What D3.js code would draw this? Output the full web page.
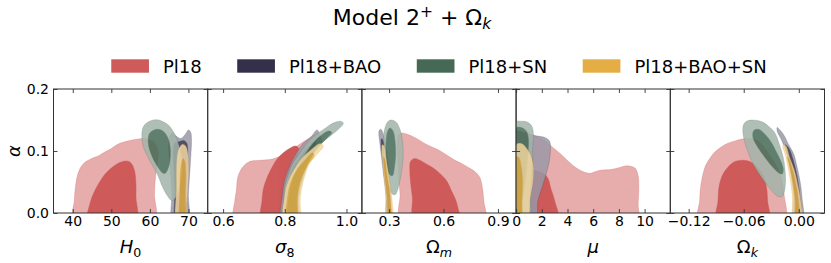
<!DOCTYPE html>
<html><head><meta charset="utf-8">
<script src="https://cdn.jsdelivr.net/npm/d3@7"></script>
<style>body{margin:0;background:#fff}svg{display:block}text{font-family:"DejaVu Sans",sans-serif}</style>
</head><body><svg id="c" width="831" height="263"></svg>
<script>
// ---------- data ----------
const seriesNames = ["Pl18", "Pl18+BAO", "Pl18+SN", "Pl18+BAO+SN"];
const seriesColors = ["#ce5a5a", "#34304a", "#466955", "#e4ae45"];
const xRanges = [[35, 75], [0.55, 1.05], [0.15, 1.0], [0, 12], [-0.14, 0.028]];
const xTicks = [[40, 50, 60, 70], [0.6, 0.8, 1.0], [0.3, 0.6, 0.9], [0, 2, 4, 6, 8, 10], [-0.12, -0.06, 0.0]];
const xTickFormats = ["d", ".1f", ".1f", "d", ".2f"];
const yRange = [0, 0.2];
const yTicks = [0.0, 0.1, 0.2];

// contours: [95% region, 68% region], points are [param, alpha]
const H0_Pl18 = [
  [[40.3,0],[40.4,0.02],[40.6,0.037],[41.1,0.058],[41.9,0.072],[43,0.081],[44,0.085],[45.3,0.089],[46.6,0.092],[48.5,0.099],[50,0.104],[51.4,0.11],[53,0.114],[54.8,0.117],[56.6,0.119],[58,0.12],[59.5,0.119],[60.9,0.115],[61.8,0.107],[62.2,0.097],[62,0.085],[61.7,0.07],[61.4,0.053],[61.2,0.03],[61.1,0]],
  [[44,0],[44.5,0.016],[45.8,0.037],[47.9,0.059],[49.2,0.068],[50.5,0.075],[52,0.081],[53.6,0.084],[54.6,0.083],[55.3,0.079],[55.9,0.071],[56.2,0.062],[56.4,0.045],[56.4,0.025],[56.4,0]]];
const H0_BAO = [
  [[65.9,0],[65.7,0.03],[65.3,0.07],[64.9,0.1],[64.9,0.115],[65.3,0.126],[65.9,0.129],[66.8,0.124],[68,0.12],[69.2,0.127],[70,0.134],[70.6,0.13],[70.8,0.115],[70.6,0.09],[70.3,0.06],[70,0.03],[69.8,0]],
  [[66.8,0],[66.5,0.04],[66.2,0.075],[66.1,0.1],[66.5,0.113],[67.5,0.115],[68.8,0.117],[69.6,0.112],[69.8,0.09],[69.6,0.05],[69.3,0.02],[69.2,0]]];
const H0_SN = [
  [[57.9,0.126],[58.3,0.139],[59.3,0.146],[60.9,0.15],[62.3,0.15],[63.5,0.147],[64.8,0.142],[65.7,0.135],[66.7,0.124],[67.4,0.112],[68,0.098],[68.3,0.085],[68.3,0.065],[67.9,0.048],[67.3,0.033],[66.6,0.024],[65.7,0.02],[64.4,0.029],[63.2,0.043],[62.2,0.059],[61.1,0.072],[60.1,0.083],[59.1,0.095],[58.3,0.107]],
  [[59.8,0.127],[60.8,0.133],[62.2,0.135],[63.6,0.131],[64.6,0.122],[65.2,0.108],[65.3,0.092],[64.9,0.075],[64.0,0.064],[63.2,0.065],[62.3,0.072],[61.2,0.083],[60.2,0.097],[59.6,0.112]]];
const H0_BAOSN = [
  [[67.0,0],[66.9,0.04],[66.9,0.075],[67.2,0.097],[67.8,0.107],[68.5,0.111],[69.3,0.108],[69.8,0.097],[70,0.075],[69.8,0.04],[69.5,0.015],[69.4,0]],
  [[67.9,0],[67.8,0.035],[67.9,0.065],[68.3,0.083],[68.7,0.088],[69.1,0.082],[69.3,0.06],[69.2,0.03],[69.0,0]]];

const S8_Pl18 = [
  [[0.637,0],[0.638,0.02],[0.643,0.037],[0.648,0.059],[0.665,0.075],[0.686,0.083],[0.72,0.085],[0.76,0.087],[0.79,0.093],[0.81,0.1],[0.84,0.108],[0.87,0.118],[0.9,0.126],[0.912,0.124],[0.9,0.11],[0.88,0.09],[0.86,0.07],[0.84,0.05],[0.822,0.025],[0.812,0]],
  [[0.724,0],[0.726,0.02],[0.731,0.04],[0.745,0.06],[0.76,0.075],[0.775,0.087],[0.795,0.097],[0.815,0.104],[0.835,0.108],[0.845,0.104],[0.84,0.09],[0.83,0.07],[0.815,0.05],[0.8,0.025],[0.795,0]]];
const S8_BAO = [
  [[0.79,0],[0.792,0.03],[0.8,0.055],[0.815,0.075],[0.835,0.095],[0.86,0.112],[0.885,0.123],[0.905,0.134],[0.912,0.128],[0.92,0.115],[0.9,0.1],[0.88,0.085],[0.865,0.065],[0.85,0.04],[0.845,0.02],[0.843,0]],
  [[0.8,0],[0.805,0.04],[0.825,0.07],[0.85,0.09],[0.88,0.108],[0.9,0.115],[0.895,0.1],[0.875,0.085],[0.855,0.065],[0.842,0.04],[0.835,0]]];
const S8_SN = [
  [[0.794,0],[0.797,0.02],[0.8,0.043],[0.816,0.069],[0.83,0.084],[0.848,0.096],[0.865,0.108],[0.881,0.118],[0.908,0.129],[0.935,0.138],[0.956,0.145],[0.98,0.148],[0.99,0.145],[0.978,0.137],[0.95,0.125],[0.925,0.115],[0.902,0.103],[0.885,0.09],[0.87,0.075],[0.858,0.06],[0.848,0.045],[0.842,0.025],[0.838,0]],
  [[0.812,0],[0.815,0.03],[0.83,0.06],[0.855,0.085],[0.88,0.105],[0.91,0.122],[0.94,0.132],[0.952,0.13],[0.935,0.12],[0.905,0.105],[0.88,0.085],[0.86,0.06],[0.845,0.03],[0.835,0]]];
const S8_BAOSN = [
  [[0.798,0],[0.8,0.03],[0.81,0.05],[0.83,0.07],[0.855,0.088],[0.885,0.102],[0.915,0.112],[0.925,0.108],[0.905,0.095],[0.88,0.08],[0.865,0.06],[0.855,0.04],[0.85,0.02],[0.848,0]],
  [[0.808,0],[0.81,0.03],[0.82,0.05],[0.84,0.07],[0.865,0.085],[0.89,0.097],[0.895,0.092],[0.875,0.078],[0.857,0.06],[0.845,0.04],[0.84,0.02],[0.838,0]]];

const Om_Pl18 = [
  [[0.365,0],[0.36,0.03],[0.352,0.06],[0.348,0.09],[0.346,0.115],[0.352,0.126],[0.37,0.129],[0.4,0.127],[0.433,0.123],[0.47,0.117],[0.51,0.11],[0.571,0.102],[0.62,0.093],[0.663,0.085],[0.7,0.08],[0.746,0.072],[0.78,0.065],[0.801,0.057],[0.815,0.04],[0.822,0.02],[0.825,0]],
  [[0.439,0],[0.428,0.025],[0.418,0.05],[0.414,0.07],[0.418,0.083],[0.44,0.088],[0.47,0.085],[0.5,0.08],[0.535,0.074],[0.575,0.065],[0.617,0.052],[0.645,0.035],[0.663,0.024],[0.678,0.01],[0.685,0]]];
const Om_BAO = [
  [[0.245,0.133],[0.255,0.135],[0.27,0.125],[0.285,0.1],[0.298,0.07],[0.307,0.04],[0.312,0.015],[0.313,0],[0.29,0],[0.282,0.03],[0.27,0.06],[0.258,0.09],[0.248,0.115],[0.243,0.128]],
  [[0.258,0.12],[0.27,0.115],[0.283,0.09],[0.296,0.06],[0.304,0.03],[0.307,0],[0.295,0],[0.287,0.03],[0.276,0.06],[0.265,0.09],[0.256,0.11]]];
const Om_SN = [
  [[0.315,0.15],[0.34,0.146],[0.36,0.135],[0.373,0.118],[0.378,0.1],[0.375,0.08],[0.365,0.06],[0.35,0.04],[0.335,0.03],[0.32,0.03],[0.305,0.038],[0.29,0.055],[0.28,0.08],[0.272,0.105],[0.27,0.125],[0.28,0.14],[0.295,0.148]],
  [[0.305,0.137],[0.322,0.132],[0.333,0.115],[0.336,0.095],[0.33,0.075],[0.318,0.06],[0.303,0.062],[0.29,0.075],[0.283,0.095],[0.284,0.118],[0.292,0.132]]];
const Om_BAOSN = [
  [[0.262,0.11],[0.272,0.108],[0.285,0.085],[0.3,0.055],[0.312,0.03],[0.32,0.01],[0.322,0],[0.29,0],[0.284,0.02],[0.275,0.05],[0.266,0.08],[0.26,0.1]],
  [[0.27,0.09],[0.278,0.085],[0.29,0.06],[0.303,0.035],[0.31,0.01],[0.312,0],[0.296,0],[0.29,0.02],[0.281,0.045],[0.273,0.07]]];

const Mu_Pl18 = [
  [[0,0],[0,0.128],[0.6,0.13],[1.35,0.126],[2.13,0.118],[2.78,0.107],[3.43,0.096],[4.08,0.083],[4.73,0.072],[5.3,0.066],[5.77,0.064],[6.2,0.067],[6.55,0.069],[7.33,0.07],[8,0.073],[8.5,0.076],[9.0,0.075],[9.28,0.072],[9.5,0.06],[9.55,0.04],[9.5,0.015],[9.4,0]],
  [[0,0],[0,0.07],[0.8,0.072],[1.6,0.068],[2.2,0.063],[2.5,0.055],[2.7,0.04],[3.0,0.02],[3.25,0]]];
const Mu_BAO = [
  [[0,0],[0,0.132],[0.5,0.13],[1.1,0.126],[1.7,0.124],[2.2,0.122],[2.6,0.116],[2.67,0.1],[2.55,0.08],[2.3,0.06],[2.0,0.04],[1.7,0.02],[1.5,0]],
  [[0,0],[0,0.11],[0.5,0.108],[1.0,0.1],[1.3,0.08],[1.2,0.05],[1.0,0.02],[0.9,0]]];
const Mu_SN = [
  [[0,0],[0,0.147],[0.4,0.148],[0.83,0.147],[1.2,0.141],[1.35,0.128],[1.3,0.11],[1.25,0.09],[1.2,0.06],[1.1,0.03],[1.0,0]],
  [[0,0],[0,0.137],[0.4,0.138],[0.8,0.132],[0.95,0.12],[0.9,0.09],[0.7,0.05],[0.5,0.02],[0.4,0]]];
const Mu_BAOSN = [
  [[0,0],[0,0.11],[0.4,0.112],[0.8,0.105],[1.2,0.09],[1.35,0.075],[1.3,0.05],[1.1,0.025],[0.85,0]],
  [[0,0],[0,0.09],[0.2,0.09],[0.4,0.075],[0.5,0.05],[0.45,0.02],[0.35,0]]];

const Ok_Pl18 = [
  [[-0.109,0],[-0.108,0.02],[-0.107,0.042],[-0.102,0.075],[-0.097,0.088],[-0.091,0.099],[-0.085,0.106],[-0.078,0.112],[-0.068,0.117],[-0.058,0.12],[-0.047,0.118],[-0.04,0.11],[-0.033,0.096],[-0.027,0.083],[-0.022,0.069],[-0.018,0.05],[-0.016,0.03],[-0.016,0]],
  [[-0.089,0],[-0.088,0.02],[-0.087,0.042],[-0.084,0.058],[-0.08,0.069],[-0.071,0.082],[-0.062,0.085],[-0.055,0.084],[-0.049,0.079],[-0.043,0.07],[-0.038,0.058],[-0.035,0.04],[-0.034,0.02],[-0.0334,0]]];
const Ok_BAO = [
  [[-0.0236,0.138],[-0.02,0.133],[-0.016,0.125],[-0.011,0.11],[-0.0055,0.095],[-0.002,0.075],[0.0015,0.05],[0.0035,0.025],[0.0045,0],[-0.0045,0],[-0.006,0.03],[-0.0075,0.053],[-0.0105,0.08],[-0.014,0.1],[-0.019,0.118],[-0.0235,0.132]],
  [[-0.015,0.11],[-0.011,0.105],[-0.006,0.085],[-0.002,0.06],[0.001,0.03],[0.002,0],[-0.003,0],[-0.005,0.03],[-0.008,0.06],[-0.011,0.085],[-0.014,0.1]]];
const Ok_SN = [
  [[-0.06,0.143],[-0.057,0.148],[-0.051,0.15],[-0.045,0.149],[-0.04,0.147],[-0.033,0.14],[-0.026,0.129],[-0.021,0.11],[-0.017,0.09],[-0.015,0.07],[-0.0145,0.05],[-0.016,0.033],[-0.019,0.026],[-0.024,0.028],[-0.03,0.037],[-0.037,0.05],[-0.044,0.065],[-0.05,0.08],[-0.055,0.097],[-0.059,0.115],[-0.061,0.132]],
  [[-0.049,0.133],[-0.044,0.135],[-0.037,0.127],[-0.03,0.114],[-0.025,0.1],[-0.02,0.085],[-0.017,0.072],[-0.018,0.063],[-0.022,0.065],[-0.029,0.075],[-0.037,0.09],[-0.045,0.107],[-0.05,0.122]]];
const Ok_BAOSN = [
  [[-0.017,0.11],[-0.014,0.108],[-0.01,0.09],[-0.005,0.07],[-0.001,0.045],[0.002,0.02],[0.003,0],[-0.0055,0],[-0.007,0.025],[-0.009,0.05],[-0.012,0.075],[-0.015,0.095],[-0.0175,0.106]],
  [[-0.013,0.09],[-0.011,0.088],[-0.007,0.07],[-0.003,0.045],[-0.0005,0.02],[0.0005,0],[-0.003,0],[-0.004,0.02],[-0.006,0.045],[-0.009,0.068],[-0.012,0.085]]];

const panelContours = [
  [H0_Pl18, H0_BAO, H0_SN, H0_BAOSN],
  [S8_Pl18, S8_BAO, S8_SN, S8_BAOSN],
  [Om_Pl18, Om_BAO, Om_SN, Om_BAOSN],
  [Mu_Pl18, Mu_BAO, Mu_SN, Mu_BAOSN],
  [Ok_Pl18, Ok_BAO, Ok_SN, Ok_BAOSN]
];
// axis labels: [main symbol, italic?, subscript, subscript italic?]
const xLabels = [["H", true, "0", false], ["σ", true, "8", false], ["Ω", false, "m", true], ["μ", true, "", false], ["Ω", false, "k", true]];

// ---------- layout ----------
const svg = d3.select("#c");
const plotL = 53.5, plotR = 824.5, plotT = 89, plotB = 213;
const nP = 5, pw = (plotR - plotL) / nP;
const ys = d3.scaleLinear().domain(yRange).range([plotB, plotT]);
const frameColor = "#333";
const lighten = c => d3.interpolateRgb(c, "#ffffff")(0.5);

// title
const title = svg.append("text").attr("x", 412).attr("y", 25).attr("text-anchor", "middle")
  .attr("font-size", 22).attr("fill", "#000");
title.append("tspan").text("Model 2");
title.append("tspan").attr("dy", -8).attr("font-size", 15.5).text("+");
title.append("tspan").attr("dy", 8).text(" + Ω");
title.append("tspan").attr("dy", 4).attr("font-size", 15.5).attr("font-style", "italic").text("k");

// legend
const lg = svg.append("g");
const patchW = 37.7, patchH = 13.4, textGap = 14, colGap = 35.5;
let cx = 0;
const items = [];
seriesNames.forEach((name, i) => {
  const g = lg.append("g");
  g.append("rect").attr("x", 0).attr("y", 59.3).attr("width", patchW).attr("height", patchH).attr("fill", seriesColors[i]);
  const t = g.append("text").attr("x", patchW + textGap).attr("y", 72.5).attr("font-size", 18).attr("fill", "#000").text(name);
  const w = patchW + textGap + t.node().getComputedTextLength();
  items.push({ g, w });
});
const totalW = d3.sum(items, d => d.w) + colGap * (items.length - 1);
cx = (plotL + plotR) / 2 - totalW / 2;
items.forEach(it => { it.g.attr("transform", `translate(${cx},0)`); cx += it.w + colGap; });

// panels
panelContours.forEach((sets, p) => {
  const x0 = plotL + p * pw, x1 = x0 + pw;
  const xs = d3.scaleLinear().domain(xRanges[p]).range([x0, x1]);
  const clipId = "clip" + p;
  svg.append("clipPath").attr("id", clipId).append("rect")
    .attr("x", x0).attr("y", plotT).attr("width", pw).attr("height", plotB - plotT);
  const gp = svg.append("g").attr("clip-path", `url(#${clipId})`);
  const line = d3.line()
    .x(d => xs(d[0]))
    .y(d => ys(d[1] <= 0 ? -0.015 : d[1]))
    .curve(d3.curveCatmullRomClosed.alpha(0.5));
  sets.forEach((levels, s) => {
    const col = seriesColors[s];
    const gs = gp.append("g").attr("opacity", s === 0 ? 1 : 0.85);
    gs.append("path").attr("d", line(levels[0])).attr("fill", lighten(col))
      .attr("stroke", col).attr("stroke-opacity", 0.35).attr("stroke-width", 0.7);
    gs.append("path").attr("d", line(levels[1])).attr("fill", col)
      .attr("stroke", col).attr("stroke-opacity", 0.6).attr("stroke-width", 0.7);
  });

  // axes (inward ticks on all four sides)
  const fmt = d3.format(xTickFormats[p]);
  const axB = svg.append("g").attr("transform", `translate(0,${plotB})`)
    .call(d3.axisBottom(xs).tickValues(xTicks[p]).tickFormat(fmt).tickSize(-4).tickPadding(3));
  const axT = svg.append("g").attr("transform", `translate(0,${plotT})`)
    .call(d3.axisTop(xs).tickValues(xTicks[p]).tickFormat("").tickSize(-4));
  const axL = svg.append("g").attr("transform", `translate(${x0},0)`)
    .call(d3.axisLeft(ys).tickValues(yTicks).tickFormat(p === 0 ? d3.format(".1f") : "").tickSize(-4).tickPadding(4.5));
  const axR = svg.append("g").attr("transform", `translate(${x1},0)`)
    .call(d3.axisRight(ys).tickValues(yTicks).tickFormat("").tickSize(-4));
  [axB, axT, axL, axR].forEach(a => {
    a.select(".domain").remove();
    a.selectAll(".tick line").attr("stroke", frameColor).attr("stroke-width", 0.9);
    a.selectAll(".tick text").attr("font-size", 14).attr("fill", "#000").attr("font-family", "DejaVu Sans");
  });
  svg.append("rect").attr("x", x0).attr("y", plotT).attr("width", pw).attr("height", plotB - plotT)
    .attr("fill", "none").attr("stroke", frameColor).attr("stroke-width", 1);

  // x label
  const lb = xLabels[p];
  const t = svg.append("text").attr("x", (x0 + x1) / 2).attr("y", 253).attr("text-anchor", "middle")
    .attr("font-size", 18).attr("fill", "#000");
  t.append("tspan").attr("font-style", lb[1] ? "italic" : "normal").text(lb[0]);
  if (lb[2]) t.append("tspan").attr("dy", 4).attr("font-size", 12.6).attr("font-style", lb[3] ? "italic" : "normal").text(lb[2]);
});

// y label
svg.append("text").attr("transform", `translate(20,${(plotT + plotB) / 2}) rotate(-90)`)
  .attr("text-anchor", "middle").attr("font-size", 18).attr("font-style", "italic").attr("fill", "#000").text("α");
</script></body></html>
